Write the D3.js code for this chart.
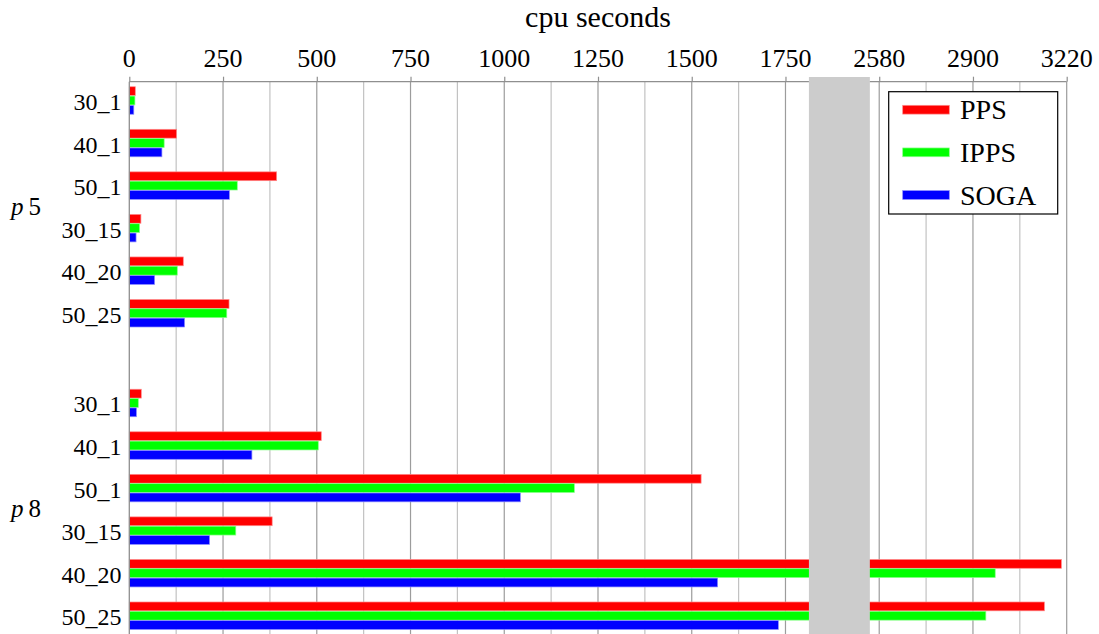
<!DOCTYPE html>
<html>
<head>
<meta charset="utf-8">
<script src="https://cdn.jsdelivr.net/npm/d3@7"></script>
<style>
  html, body { margin: 0; padding: 0; background: #fff; }
  svg { display: block; }
</style>
</head>
<body>
<svg id="chart" width="1099" height="634"></svg>
<script>
// ---------------- data ----------------
const groupNames = ["p", "p"];
const groupNumbers = ["5", "8"];
const categories = ["30_1", "40_1", "50_1", "30_15", "40_20", "50_25"];
const seriesNames = ["PPS", "IPPS", "SOGA"];

const ppsP5  = [16, 126, 393, 31, 144, 266];
const ippsP5 = [15, 93, 288, 27.5, 128, 260];
const sogaP5 = [12, 87, 267, 18, 67.5, 147.5];

const ppsP8  = [32, 512, 1525, 381, 3202, 3144];
const ippsP8 = [24, 504, 1187, 284, 2976, 2944];
const sogaP8 = [19, 327, 1043, 214, 1569, 1731];

const xTickValues = [0, 250, 500, 750, 1000, 1250, 1500, 1750, 2580, 2900, 3220];
const xMinorValues = [125, 375, 625, 875, 1125, 1375, 1625, 2740, 3060];
const axisTitle = "cpu seconds";

// ---------------- layout ----------------
const W = 1099, H = 634;
const FONT = "Liberation Serif";
const x0 = 129.3, x1 = 1066.7;     // plot left / right
const yTop = 81.7;                  // top axis line
const colors = { PPS: "#ff0000", IPPS: "#00ff00", SOGA: "#0000ff" };
const strokes = { PPS: "#ff8c8c", IPPS: "#8cff8c", SOGA: "#8c8cff" };

// virtual linear coordinate (axis break): 0..1750 real, 2580..3220 squeezed into 2000..2500
const xv = d3.scaleLinear().domain([0, 2500]).range([x0, x1]);
const x = d3.scaleLinear()
  .domain([0, 1750, 2580, 3220])
  .range([xv(0), xv(1750), xv(2000), xv(2500)]);

// category positions
const slot = 42.55;
const groupGap = 1.109; // extra slots between groups
const y = d3.scaleLinear().domain([0, 1]).range([100.5, 100.5 + slot]);
const sub = d3.scaleBand().domain(seriesNames).range([-14, 14]).padding(0);

const rows = [];
const groupData = [
  { PPS: ppsP5, IPPS: ippsP5, SOGA: sogaP5 },
  { PPS: ppsP8, IPPS: ippsP8, SOGA: sogaP8 }
];
groupData.forEach((g, gi) => {
  categories.forEach((c, ci) => {
    const pos = gi * (categories.length + groupGap) + ci;
    rows.push({ group: gi, cat: c, pos, vals: seriesNames.map(s => ({ s, v: g[s][ci] })) });
  });
});

const svg = d3.select("#chart");

// helper: text with start anchor, aligned manually (anchor: 0 start, 0.5 middle, 1 end)
function addText(parent, str, px, py, size, anchor, italic) {
  const t = parent.append("text")
    .attr("x", px).attr("y", py)
    .attr("font-family", FONT)
    .attr("font-size", size)
    .attr("fill", "#000")
    .text(str);
  if (italic) t.attr("font-style", "italic");
  if (anchor) {
    const w = t.node().getComputedTextLength();
    t.attr("x", px - w * anchor);
  }
  return t;
}

// ---------------- grid ----------------
const grid = svg.append("g");
grid.selectAll("line.minor").data(xMinorValues).join("line")
  .attr("class", "minor")
  .attr("x1", d => x(d)).attr("x2", d => x(d))
  .attr("y1", yTop).attr("y2", H)
  .attr("stroke", "#c2c2c2").attr("stroke-width", 1.2);
grid.selectAll("line.major").data(xTickValues.slice(1)).join("line")
  .attr("class", "major")
  .attr("x1", d => x(d)).attr("x2", d => x(d))
  .attr("y1", yTop).attr("y2", H)
  .attr("stroke", "#9c9c9c").attr("stroke-width", 1.2);

// ---------------- bars ----------------
const barH = sub.bandwidth() - 0.5;
const rowG = svg.append("g").selectAll("g").data(rows).join("g")
  .attr("transform", d => `translate(0,${y(d.pos)})`);
rowG.selectAll("rect").data(d => d.vals).join("rect")
  .attr("x", x(0))
  .attr("y", d => sub(d.s) + 0.25)
  .attr("width", d => x(d.v) - x(0))
  .attr("height", barH)
  .attr("fill", d => colors[d.s])
  .attr("stroke", d => strokes[d.s])
  .attr("stroke-width", 0.7);

// ---------------- axis break band ----------------
svg.append("rect")
  .attr("x", xv(1812.5)).attr("y", yTop - 4.7)
  .attr("width", xv(1975) - xv(1812.5)).attr("height", H - yTop + 5)
  .attr("fill", "#cccccc");

// ---------------- axes ----------------
const xAxis = d3.axisTop(x).tickValues(xTickValues).tickSize(5).tickFormat(() => "");
const gx = svg.append("g").attr("transform", `translate(0,${yTop})`).call(xAxis);
gx.select(".domain").remove();
gx.selectAll(".tick text").remove();
gx.selectAll(".tick line").attr("stroke", "#8f8f8f").attr("stroke-width", 1.2);
const tickLabels = svg.append("g");
xTickValues.forEach(v => addText(tickLabels, d3.format("d")(v), x(v), yTop - 15, 26, 0.5));

// top axis line (drawn in two pieces around the break)
svg.append("line").attr("x1", x0).attr("x2", xv(1812.5)).attr("y1", yTop).attr("y2", yTop)
  .attr("stroke", "#8f8f8f").attr("stroke-width", 1.2);
svg.append("line").attr("x1", xv(1975)).attr("x2", x1).attr("y1", yTop).attr("y2", yTop)
  .attr("stroke", "#8f8f8f").attr("stroke-width", 1.2);
// left axis line
svg.append("line").attr("x1", x0).attr("x2", x0).attr("y1", yTop).attr("y2", H)
  .attr("stroke", "#8f8f8f").attr("stroke-width", 1.3);

// axis title
addText(svg, axisTitle, (x0 + x1) / 2, 27, 30, 0.5);

// category labels
const catG = svg.append("g");
rows.forEach(r => addText(catG, r.cat, 121.5, y(r.pos) + 9.5, 24, 1));

// group labels
groupNames.forEach((gName, gi) => {
  const p0 = gi * (categories.length + groupGap);
  const cy = (y(p0 + 2) + y(p0 + 3)) / 2;
  const t = svg.append("text").attr("x", 11).attr("y", cy + 8)
    .attr("font-family", FONT).attr("font-size", 25).attr("fill", "#000");
  t.append("tspan").attr("font-style", "italic").text(gName);
  t.append("tspan").attr("dx", 5).text(groupNumbers[gi]);
});

// ---------------- legend ----------------
const lg = svg.append("g");
lg.append("rect").attr("x", 888.7).attr("y", 91.7).attr("width", 169).attr("height", 122.3)
  .attr("fill", "#fff").attr("stroke", "#000").attr("stroke-width", 1.2);
const ly = d3.scaleLinear().domain([0, 1]).range([109.7, 109.7 + 42.65]);
seriesNames.forEach((s, i) => {
  lg.append("rect").attr("x", 902.7).attr("y", ly(i) - 4.4).attr("width", 46.6).attr("height", 8.8)
    .attr("fill", colors[s]).attr("stroke", strokes[s]).attr("stroke-width", 0.7);
  addText(lg, s, 960, ly(i) + 9.5, 28, 0);
});
</script>
</body>
</html>
